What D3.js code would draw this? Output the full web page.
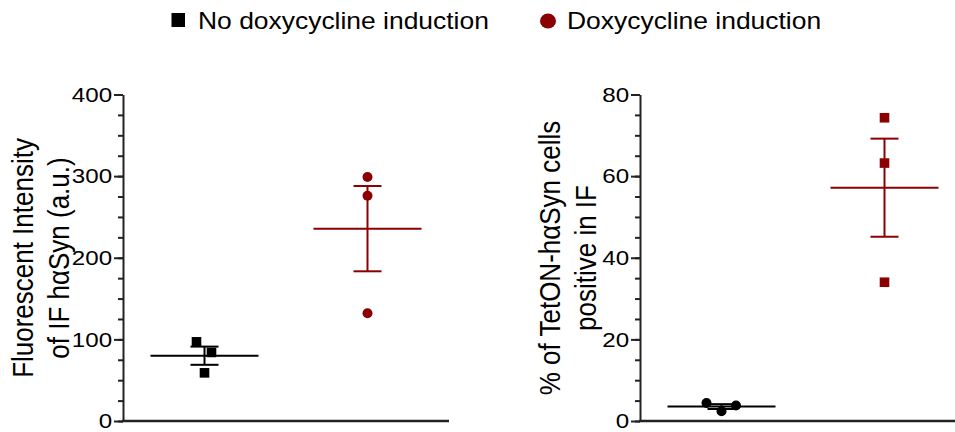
<!DOCTYPE html>
<html>
<head>
<meta charset="utf-8">
<script src="https://cdn.jsdelivr.net/npm/d3@7"></script>
<style>
  body { margin: 0; background: #fff; }
  text { font-family: "Liberation Sans", Arial, sans-serif; fill: #000; }
</style>
</head>
<body>
<svg id="chart" width="955" height="432"></svg>
<script>
// groups (same order in both panels)
var groups = ["No doxycycline induction", "Doxycycline induction"];

// panel A: fluorescent intensity, replicate values
var intensityNoDox = [97, 84, 59];
var intensityDox = [299, 276, 132];

// panel B: % positive cells, replicate values
var positiveNoDox = [4.4, 2.4, 3.8];
var positiveDox = [74.3, 63.2, 34.0];

var intensityTicks = [0, 100, 200, 300, 400];
var positiveTicks = [0, 20, 40, 60, 80];

var black = "#000";
var red = "#8b0000";
var stretch = "scale(1.15,1)"; // text in the original is a bit wide

var svg = d3.select("#chart");

function mean(a) { return d3.mean(a); }
function sem(a) { return d3.deviation(a) / Math.sqrt(a.length); }

function drawPanel(cfg) {
  var g = svg.append("g");

  var x = d3.scalePoint().domain(groups).range([cfg.left, cfg.left + 326]).padding(0.5);
  var y = d3.scaleLinear().domain([0, cfg.max]).range([421, 94.5]);

  // minor ticks
  g.append("g")
    .attr("transform", "translate(" + cfg.left + ",0)")
    .call(d3.axisLeft(y).tickValues(d3.range(0, cfg.max + 0.001, cfg.minor)).tickSize(5).tickFormat(""))
    .call(function(s) { s.select(".domain").remove(); s.selectAll("line").attr("stroke", "#222").attr("stroke-width", 2); });

  // major ticks + labels
  var ax = g.append("g")
    .attr("transform", "translate(" + cfg.left + ",0)")
    .call(d3.axisLeft(y).tickValues(cfg.ticks).tickSize(9).tickSizeOuter(0));
  ax.select(".domain").attr("stroke", "#222").attr("stroke-width", 2);
  ax.selectAll("line").attr("stroke", "#222").attr("stroke-width", 2);
  ax.selectAll("text")
    .attr("x", -9.5)
    .attr("font-size", 21)
    .attr("fill", "#000")
    .attr("transform", stretch);

  // x axis line
  g.append("line")
    .attr("x1", cfg.left - 1).attr("x2", cfg.left + 326)
    .attr("y1", y(0)).attr("y2", y(0))
    .attr("stroke", "#222").attr("stroke-width", 2.5);

  // axis title
  var t = g.append("text")
    .attr("transform", "translate(" + cfg.titleX + ",258) " + stretch + " rotate(-90)")
    .attr("text-anchor", "middle")
    .attr("font-size", 26);
  cfg.title.forEach(function(line, i) {
    t.append("tspan").attr("x", 0).attr("y", i * 31.5).text(line);
  });

  cfg.series.forEach(function(s, si) {
    var cx = x(groups[si]);
    var m = mean(s.values), e = sem(s.values);

    // mean line
    g.append("line")
      .attr("x1", cx - 54).attr("x2", cx + 54)
      .attr("y1", y(m)).attr("y2", y(m))
      .attr("stroke", s.color).attr("stroke-width", 2);
    // sem bar
    g.append("line")
      .attr("x1", cx).attr("x2", cx)
      .attr("y1", y(m + e)).attr("y2", y(m - e))
      .attr("stroke", s.color).attr("stroke-width", 2);
    [m + e, m - e].forEach(function(v) {
      g.append("line")
        .attr("x1", cx - 14).attr("x2", cx + 14)
        .attr("y1", y(v)).attr("y2", y(v))
        .attr("stroke", s.color).attr("stroke-width", 2);
    });

    // points
    s.values.forEach(function(v, i) {
      var px = cx + s.jitter[i], py = y(v);
      if (s.shape == "square") {
        g.append("rect")
          .attr("x", px - 4.8).attr("y", py - 4.8)
          .attr("width", 9.6).attr("height", 9.6)
          .attr("fill", s.color);
      } else {
        g.append("circle")
          .attr("cx", px).attr("cy", py).attr("r", 5)
          .attr("fill", s.color);
      }
    });
  });
}

drawPanel({
  left: 123, max: 400, minor: 25, ticks: intensityTicks, titleX: 33,
  title: ["Fluorescent Intensity", "of IF h\u03b1Syn (a.u.)"],
  series: [
    { values: intensityNoDox, color: black, shape: "square", jitter: [-8, 7, 0] },
    { values: intensityDox, color: red, shape: "circle", jitter: [0, 0, 0] }
  ]
});

drawPanel({
  left: 640, max: 80, minor: 5, ticks: positiveTicks, titleX: 560,
  title: ["% of TetON-h\u03b1Syn cells", "positive in IF"],
  series: [
    { values: positiveNoDox, color: black, shape: "circle", jitter: [-15, 0, 14.5] },
    { values: positiveDox, color: red, shape: "square", jitter: [0, 0, 0] }
  ]
});

// legend
var lg = svg.append("g");
lg.append("rect").attr("x", 171.5).attr("y", 13).attr("width", 13.5).attr("height", 14).attr("fill", black);
lg.append("text").attr("transform", "translate(198,29) " + stretch).attr("font-size", 23).text(groups[0]);
lg.append("ellipse").attr("cx", 548).attr("cy", 21).attr("rx", 8).attr("ry", 7.5).attr("fill", red);
lg.append("text").attr("transform", "translate(567,29) " + stretch).attr("font-size", 23).text(groups[1]);
</script>
</body>
</html>
